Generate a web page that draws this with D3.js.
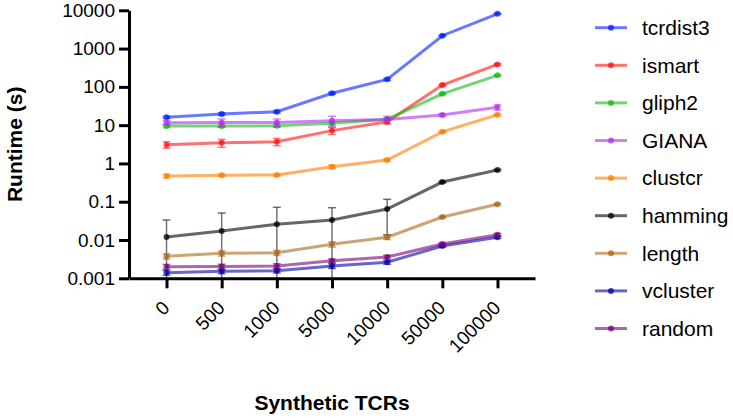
<!DOCTYPE html>
<html>
<head>
<meta charset="utf-8">
<script src="https://cdn.jsdelivr.net/npm/d3@7"></script>
<style>
  html, body { margin: 0; padding: 0; background: #fff; }
  svg { display: block; font-family: "Liberation Sans", Arial, Helvetica, sans-serif; }
</style>
</head>
<body>
<svg id="chart" width="733" height="419"></svg>
<script>
// ---- data ----
const categories = ["0", "500", "1000", "5000", "10000", "50000", "100000"];
const yTicks = [0.001, 0.01, 0.1, 1, 10, 100, 1000, 10000];
const seriesNames = ["tcrdist3", "ismart", "gliph2", "GIANA", "clustcr", "hamming", "length", "vcluster", "random"];
const seriesColors = ["#0020ff", "#ff1111", "#14b814", "#b12bee", "#ff7b00", "#000000", "#a8671a", "#0000a8", "#7a0078"];

const tcrdist3 = [16.0, 19.5, 22.4, 68, 157, 2170, 8100];
const ismart   = [3.1, 3.45, 3.7, 7.2, 12.3, 112, 385];
const gliph2   = [9.5, 9.5, 9.6, 11.2, 14.2, 66, 200];
const GIANA    = [11.6, 11.8, 11.8, 13.1, 14.0, 18.4, 29.2];
const clustcr  = [0.47, 0.49, 0.50, 0.82, 1.23, 6.7, 18.7];
const hamming  = [0.012, 0.0172, 0.0257, 0.0333, 0.0646, 0.327, 0.673];
const length_  = [0.00376, 0.0045, 0.00466, 0.00773, 0.0118, 0.0399, 0.0857];
const vcluster = [0.0014, 0.00152, 0.00158, 0.0021, 0.00262, 0.00698, 0.0118];
const random_  = [0.00201, 0.00203, 0.0021, 0.00288, 0.0036, 0.00787, 0.0138];

// standard deviations (linear units)
const tcrdist3Err = [1.0, 1.5, 1.5, 4, 10, 100, 300];
const ismartErr   = [0.6, 0.8, 0.8, 1.5, 1.5, 6, 20];
const gliph2Err   = [0.8, 0.8, 0.8, 1.0, 1.0, 3, 8];
const GIANAErr    = [1.5, 2.7, 2.7, 4.0, 3.0, 1.5, 4.6];
const clustcrErr  = [0.05, 0.03, 0.03, 0.08, 0.1, 0.4, 1.0];
const hammingErr  = [0.0213, 0.0335, 0.0458, 0.0365, 0.051, 0.02, 0.03];
const lengthErr   = [0.0006, 0.0007, 0.0007, 0.0012, 0.0015, 0.002, 0.004];
const vclusterErr = [0.0002, 0.0002, 0.0002, 0.0003, 0.0003, 0.0005, 0.0008];
const randomErr   = [0.0003, 0.0003, 0.0003, 0.0003, 0.0004, 0.0006, 0.001];

const seriesValues = [tcrdist3, ismart, gliph2, GIANA, clustcr, hamming, length_, vcluster, random_];
const seriesErrors = [tcrdist3Err, ismartErr, gliph2Err, GIANAErr, clustcrErr, hammingErr, lengthErr, vclusterErr, randomErr];

// ---- layout ----
const svg = d3.select("#chart");
const axisX0 = 129, axisX1 = 535;
const yTop = 10.3, yBottom = 278.3;

const x = d3.scalePoint().domain(categories).range([axisX0, axisX1]).padding(0.68);
const y = d3.scaleLog().domain([0.001, 10000]).range([yBottom, yTop]);

const series = seriesNames.map((name, i) => ({
  name, color: seriesColors[i],
  points: categories.map((c, j) => ({ c, v: seriesValues[i][j], e: seriesErrors[i][j] }))
}));

const plot = svg.append("g");
const line = d3.line().x(d => x(d.c)).y(d => y(d.v));

series.forEach(s => {
  const g = plot.append("g");
  // error bars
  s.points.forEach(p => {
    const hi = p.v + p.e;
    const lo = p.v - p.e;
    const yHi = y(hi);
    const yLo = lo > 0.001 ? y(lo) : yBottom;
    g.append("line").attr("x1", x(p.c)).attr("x2", x(p.c)).attr("y1", yHi).attr("y2", yLo)
      .attr("stroke", s.color).attr("stroke-opacity", 0.55).attr("stroke-width", 1.5);
    g.append("line").attr("x1", x(p.c) - 4).attr("x2", x(p.c) + 4).attr("y1", yHi).attr("y2", yHi)
      .attr("stroke", s.color).attr("stroke-opacity", 0.55).attr("stroke-width", 1.5);
    if (lo > 0.001) {
      g.append("line").attr("x1", x(p.c) - 4).attr("x2", x(p.c) + 4).attr("y1", yLo).attr("y2", yLo)
        .attr("stroke", s.color).attr("stroke-opacity", 0.55).attr("stroke-width", 1.5);
    }
  });
  g.append("path").datum(s.points).attr("d", line)
    .attr("fill", "none").attr("stroke", s.color).attr("stroke-opacity", 0.6).attr("stroke-width", 3);
  g.selectAll("circle").data(s.points).join("circle")
    .attr("cx", d => x(d.c)).attr("cy", d => y(d.v)).attr("r", 3)
    .attr("fill", s.color).attr("fill-opacity", 0.75);
});

// ---- axes ----
const yAxis = d3.axisLeft(y).tickValues(yTicks).tickSize(10).tickSizeOuter(0).tickPadding(4)
  .tickFormat(d => String(d));
const gy = svg.append("g").attr("transform", `translate(${axisX0},0)`).call(yAxis);
gy.select(".domain").attr("stroke", "#000").attr("stroke-width", 3);
gy.selectAll(".tick line").attr("stroke", "#000").attr("stroke-width", 3);
gy.selectAll(".tick text").attr("font-size", 19).attr("fill", "#000")
  .attr("font-family", "Liberation Sans, Arial, sans-serif");

const xAxis = d3.axisBottom(x).tickSize(10).tickSizeOuter(0);
const gx = svg.append("g").attr("transform", `translate(0,${yBottom})`).call(xAxis);
gx.select(".domain").attr("stroke", "#000").attr("stroke-width", 3);
gx.selectAll(".tick line").attr("stroke", "#000").attr("stroke-width", 3);
gx.selectAll(".tick text").attr("font-size", 19).attr("fill", "#000")
  .attr("font-family", "Liberation Sans, Arial, sans-serif")
  .attr("text-anchor", "end").attr("dy", "0.35em")
  .attr("transform", "translate(-1,26) rotate(-45)").attr("y", 0).attr("x", 0);

// ---- titles ----
svg.append("text").attr("transform", `translate(22,${(yTop + yBottom) / 2}) rotate(-90)`)
  .attr("text-anchor", "middle").attr("font-size", 21).attr("font-weight", "bold").text("Runtime (s)");
svg.append("text").attr("x", (axisX0 + axisX1) / 2).attr("y", 410)
  .attr("text-anchor", "middle").attr("font-size", 21).attr("font-weight", "bold").text("Synthetic TCRs");

// ---- legend ----
const legend = svg.append("g");
series.forEach((s, i) => {
  const ly = 27.7 + i * 37.6;
  legend.append("line").attr("x1", 595).attr("x2", 627).attr("y1", ly).attr("y2", ly)
    .attr("stroke", s.color).attr("stroke-opacity", 0.6).attr("stroke-width", 3);
  legend.append("circle").attr("cx", 611).attr("cy", ly).attr("r", 3)
    .attr("fill", s.color).attr("fill-opacity", 0.75);
  legend.append("text").attr("x", 642).attr("y", ly).attr("dy", "0.35em")
    .attr("font-size", 21).attr("fill", "#000").text(s.name);
});
</script>
</body>
</html>
